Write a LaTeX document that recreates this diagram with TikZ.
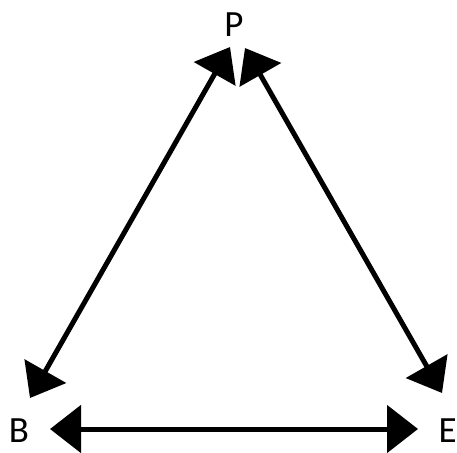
\documentclass[tikz,border=0pt]{standalone}
\usepackage{fontspec}
\setmainfont{Carlito}
\usetikzlibrary{arrows.meta}
\begin{document}
\begin{tikzpicture}[x=1pt,y=-1pt,
  conn/.style={line width=5pt,{Triangle[length=31pt,width=47pt]}-{Triangle[length=31pt,width=47pt]}},
  lbl/.style={font=\fontsize{37}{37}\selectfont,inner sep=0pt}]
\useasboundingbox (0,0) rectangle (457,452);
\node[lbl] (P) at (234,25) {P};
\node[lbl] (B) at (19,430.5) {B};
\node[lbl,anchor=east] (E) at (457,430.5) {E};
\coordinate (pl) at (230,47);
\coordinate (pr) at (245,48);
\coordinate (bl) at (30,398);
\coordinate (bb) at (50,429);
\coordinate (er) at (442,393);
\coordinate (eb) at (418,429);
\draw[conn] (bl) -- (pl);
\draw[conn] (pr) -- (er);
\draw[conn] (bb) -- (eb);
\end{tikzpicture}
\end{document}
